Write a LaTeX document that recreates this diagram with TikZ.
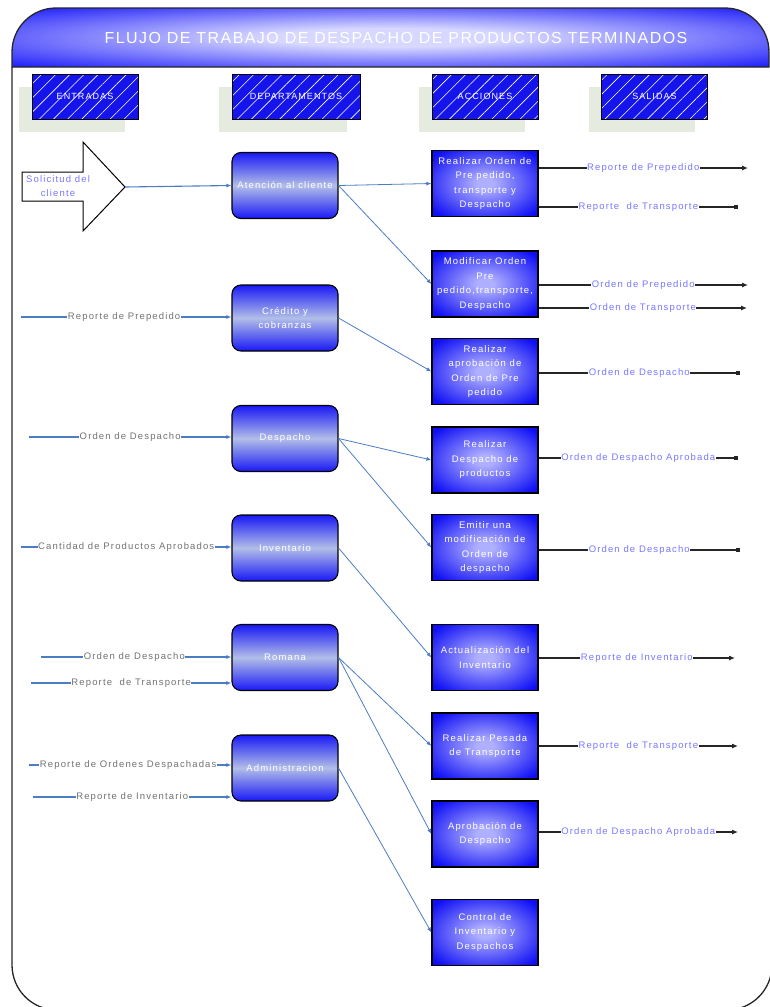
\documentclass[tikz,border=0pt]{standalone}
\usepackage{fontspec}
\setmainfont{Liberation Sans}
\newfontfamily\lblfont{Liberation Sans}[LetterSpace=12]
\newfontfamily\ttlfont{Liberation Sans}[LetterSpace=9]
\usetikzlibrary{arrows.meta,patterns.meta,shadings,shadows}

\definecolor{hdrblue}{RGB}{10,10,250}
\definecolor{glow}{RGB}{215,215,255}
\definecolor{hatchblue}{RGB}{20,20,235}
\definecolor{shadowgreen}{RGB}{230,235,223}
\definecolor{deptblue}{RGB}{25,25,245}
\definecolor{deptmid}{RGB}{178,190,232}
\definecolor{actblue}{RGB}{15,15,245}
\definecolor{actglow}{RGB}{175,175,255}
\definecolor{linkblue}{RGB}{75,125,195}
\definecolor{lblgray}{RGB}{115,115,115}
\definecolor{lblviolet}{RGB}{120,120,255}

% soft glow for the title band
\pgfdeclareradialshading{bandglow}{\pgfpoint{0bp}{0bp}}{%
  color(0bp)=(glow); color(8bp)=(glow); color(38bp)=(hdrblue); color(50bp)=(hdrblue)}
% soft glow for the action boxes
\pgfdeclareradialshading{boxglow}{\pgfpoint{0bp}{0bp}}{%
  color(0bp)=(actglow); color(4bp)=(actglow); color(32bp)=(actblue); color(50bp)=(actblue)}

\begin{document}
\begin{tikzpicture}[x=1pt,y=-1pt,
  frame/.style={draw=black!85,line width=1.3pt},
  colhead/.style={draw=black,line width=1pt,
    drop shadow={shadow xshift=-13pt,shadow yshift=-13pt,fill=shadowgreen,opacity=1},
    preaction={fill=hatchblue},
    pattern={Lines[angle=45,distance=10pt,line width=0.6pt]},pattern color=white,
    minimum width=106pt,minimum height=45pt,inner sep=1pt,text=white,
    font=\lblfont\fontsize{9}{10}\selectfont},
  dept/.style={draw=black,line width=1.1pt,rounded corners=9pt,
    top color=deptblue,bottom color=deptblue,middle color=deptmid,
    minimum width=106pt,minimum height=66pt,inner sep=1pt,text=white,align=center,
    font=\lblfont\fontsize{9.5}{14}\selectfont},
  act/.style={draw=black,line width=1.2pt,shading=boxglow,
    minimum width=106pt,minimum height=66pt,inner sep=1pt,text=white,align=center,
    font=\lblfont\fontsize{9.5}{14.5}\selectfont},
  inarrow/.style={draw=linkblue,line width=1.1pt,-{Latex[length=5pt,width=4pt]}},
  link/.style={draw=linkblue,line width=0.8pt,-{Latex[length=5pt,width=4pt]}},
  outarrow/.style={draw=black!85,line width=1.1pt,-{Latex[length=6pt,width=5pt]}},
  outsq/.style={draw=black!85,line width=1.1pt,-{Square[length=4pt,width=4pt]}},
  inlbl/.style={fill=white,inner sep=0.5pt,text=lblgray,font=\lblfont\fontsize{9.5}{11}\selectfont},
  outlbl/.style={fill=white,inner sep=0.5pt,text=lblviolet,font=\lblfont\fontsize{9.5}{11}\selectfont}
]
\useasboundingbox (0,0) rectangle (770,1007);

% title band
\shade[shading=bandglow]
  (12,67) -- (12,52) arc[start angle=180,end angle=270,radius=44]
  -- (725,8) arc[start angle=270,end angle=360,radius=44] -- (769,67) -- cycle;
\draw[frame]
  (12,67) -- (12,52) arc[start angle=180,end angle=270,radius=44]
  -- (725,8) arc[start angle=270,end angle=360,radius=44] -- (769,67) -- cycle;
\node[text=white,font=\ttlfont\fontsize{16}{18}\selectfont] (title) at (396,38)
  {FLUJO DE TRABAJO DE DESPACHO DE PRODUCTOS TERMINADOS};

% outer frame
\draw[frame] (12,67) -- (12,965) arc[start angle=180,end angle=90,radius=45]
  -- (727,1010) arc[start angle=90,end angle=0,radius=45] -- (772,67);

% column headings
\node[colhead] (hin) at (85,96.5) {ENTRADAS};
\node[colhead,minimum width=128pt] (hdep) at (296,96.5) {DEPARTAMENTOS};
\node[colhead] (hact) at (485,96.5) {ACCIONES};
\node[colhead] (hout) at (654.5,96.5) {SALIDAS};

% departments
\node[dept] (atc) at (285,185.5) {Atención al cliente};
\node[dept] (cre) at (285,318) {Crédito y\\cobranzas};
\node[dept] (des) at (285,438.5) {Despacho};
\node[dept] (inv) at (285,548) {Inventario};
\node[dept] (rom) at (285,657.5) {Romana};
\node[dept] (adm) at (285,768) {Administracion};

% actions
\node[act] (a1) at (485,183.5) {Realizar Orden de\\Pre pedido,\\transporte y\\Despacho};
\node[act] (a2) at (485,284) {Modificar Orden\\Pre\\pedido,transporte,\\Despacho};
\node[act] (a3) at (485,371.5) {Realizar\\aprobación de\\Orden de Pre\\pedido};
\node[act] (a4) at (485,460) {Realizar\\Despacho de\\productos};
\node[act] (a5) at (485,547.5) {Emitir una\\modificación de\\Orden de\\despacho};
\node[act] (a6) at (485,657.5) {Actualización del\\Inventario};
\node[act] (a7) at (485,746) {Realizar Pesada\\de Transporte};
\node[act] (a8) at (485,834) {Aprobación de\\Despacho};
\node[act] (a9) at (485,932.5) {Control de\\Inventario y\\Despachos};

% customer request block arrow
\draw[draw=black,line width=1pt,fill=white]
  (22,172) -- (83,172) -- (83,142) -- (125,187) -- (83,231) -- (83,201) -- (22,201) -- cycle;
\node[text=lblviolet,align=center,font=\lblfont\fontsize{9.5}{14}\selectfont] (sol) at (58,186)
  {Solicitud del\\cliente};
\coordinate (soltip) at (125,187);
\draw[inarrow] (soltip) -- (atc.west);

% inputs
\coordinate (i1) at (21,317);
\coordinate (i2) at (29,437);
\coordinate (i3) at (21,547);
\coordinate (i4) at (41,657);
\coordinate (i5) at (31,683);
\coordinate (i6) at (29,765);
\coordinate (i7) at (33,797);
\draw[inarrow] (i1) -- (i1 -| cre.west) node[inlbl,pos=.49] (li1) {Reporte de Prepedido};
\draw[inarrow] (i2) -- (i2 -| des.west) node[inlbl,pos=.5] (li2) {Orden de Despacho};
\draw[inarrow] (i3) -- (i3 -| inv.west) node[inlbl,pos=.5] (li3) {Cantidad de Productos Aprobados};
\draw[inarrow] (i4) -- (i4 -| rom.west) node[inlbl,pos=.49] (li4) {Orden de Despacho};
\draw[inarrow] (i5) -- (i5 -| rom.west) node[inlbl,pos=.5] (li5) {Reporte\ \ de Transporte};
\draw[inarrow] (i6) -- (i6 -| adm.west) node[inlbl,pos=.49] (li6) {Reporte de Ordenes Despachadas};
\draw[inarrow] (i7) -- (i7 -| adm.west) node[inlbl,pos=.5] (li7) {Reporte de Inventario};

% departments to actions
\draw[link] (atc.east) -- (a1.west);
\draw[link] (atc.east) -- (a2.west);
\draw[link] (cre.east) -- (a3.west);
\draw[link] (des.east) -- (a4.west);
\draw[link] (des.east) -- (a5.west);
\draw[link] (inv.east) -- (a6.west);
\draw[link] (rom.east) -- (a7.west);
\draw[link] (rom.east) -- (a8.west);
\draw[link] (adm.east) -- (a9.west);

% outputs
\coordinate (o1) at (748,168);
\coordinate (o2) at (738,207);
\coordinate (o3) at (748,285);
\coordinate (o4) at (747,308);
\coordinate (o5) at (740,373);
\coordinate (o6) at (738,458);
\coordinate (o7) at (740,550);
\coordinate (o8) at (735,658);
\coordinate (o9) at (738,746);
\coordinate (o10) at (738,832);
\draw[outarrow] (o1 -| a1.east) -- (o1) node[outlbl,pos=.5] (lo1) {Reporte de Prepedido};
\draw[outsq] (o2 -| a1.east) -- (o2) node[outlbl,pos=.5] (lo2) {Reporte\ \ de Transporte};
\draw[outarrow] (o3 -| a2.east) -- (o3) node[outlbl,pos=.5] (lo3) {Orden de Prepedido};
\draw[outarrow] (o4 -| a2.east) -- (o4) node[outlbl,pos=.5] (lo4) {Orden de Transporte};
\draw[outsq] (o5 -| a3.east) -- (o5) node[outlbl,pos=.5] (lo5) {Orden de Despacho};
\draw[outsq] (o6 -| a4.east) -- (o6) node[outlbl,pos=.5] (lo6) {Orden de Despacho Aprobada};
\draw[outsq] (o7 -| a5.east) -- (o7) node[outlbl,pos=.5] (lo7) {Orden de Despacho};
\draw[outarrow] (o8 -| a6.east) -- (o8) node[outlbl,pos=.5] (lo8) {Reporte de Inventario};
\draw[outarrow] (o9 -| a7.east) -- (o9) node[outlbl,pos=.5] (lo9) {Reporte\ \ de Transporte};
\draw[outarrow] (o10 -| a8.east) -- (o10) node[outlbl,pos=.5] (lo10) {Orden de Despacho Aprobada};
\end{tikzpicture}
\end{document}
